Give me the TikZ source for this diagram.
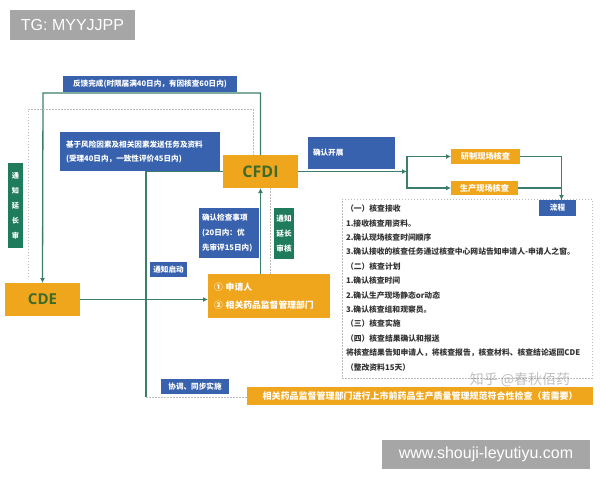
\documentclass[tikz,border=0pt]{standalone}
\usepackage{fontspec}
\setmainfont{Noto Sans CJK SC}
\newfontfamily\lsans{Liberation Sans}
\newfontfamily\osans{Open Sans}
\usetikzlibrary{arrows.meta}
\definecolor{cfOrange}{HTML}{EFA51C}
\definecolor{cfBlue}{HTML}{3862AE}
\definecolor{cfGreen}{HTML}{1E7B5C}
\definecolor{cfLine}{HTML}{3C7E6C}
\definecolor{cfText}{HTML}{3E6B2C}
\definecolor{cfGray}{HTML}{A6A6A6}
\definecolor{cfDot}{HTML}{BDBDBD}
\definecolor{cfBody}{HTML}{333333}
\begin{document}
\begin{tikzpicture}[x=1pt,y=-1pt,
  box/.style={inner sep=0pt, outer sep=0pt},
  bluebox/.style={box, fill=cfBlue, text=white, font=\bfseries\fontsize{7.6}{14}\selectfont},
  greenbox/.style={box, fill=cfGreen, text=white, font=\bfseries\fontsize{7.6}{15}\selectfont},
  orbox/.style={box, fill=cfOrange, text=white, font=\bfseries\fontsize{8.2}{14}\selectfont},
  bigtxt/.style={font=\osans\bfseries\fontsize{16}{16}\selectfont, text=cfText},
  graybox/.style={box, fill=cfGray, text=white, font=\lsans\fontsize{16}{16}\selectfont},
  conn/.style={draw=cfLine, line width=1.3pt},
  arr/.style={-{Latex[length=5pt,width=5pt]}},
  dotline/.style={draw=cfDot, line width=0.9pt, dash pattern=on 1.5pt off 1.5pt}
]
\fill[white] (0,0) rectangle (600,480);
\useasboundingbox (0,0) rectangle (600,480);

% watermark boxes
\node[graybox, minimum width=125, minimum height=30] (tg) at (72.5,25) {TG: MYYJJPP};
\node[graybox, minimum width=208, minimum height=29] (www) at (486,454.5) {www.shouji-leyutiyu.com};

% main nodes
\node[bluebox, minimum width=174, minimum height=16] (fb) at (150,84) {反馈完成(时限届满40日内，有因核查60日内)};
\node[bluebox, text width=148, inner xsep=6, minimum height=39, align=left] (task) at (140,151.5)
  {基于风险因素及相关因素发送任务及资料\\(受理40日内，一致性评价45日内)};
\node[orbox, bigtxt, minimum width=75, minimum height=33] (cfdi) at (260.5,171.5) {CFDI};
\node[orbox, bigtxt, font=\osans\bfseries\fontsize{15}{15}\selectfont, minimum width=75, minimum height=33] (cde) at (42.5,299.5) {CDE};
\node[orbox, font=\bfseries\fontsize{8.8}{18}\selectfont, text width=110, inner xsep=6, minimum height=44, align=left] (appl) at (269,296)
  {① 申请人\\② 相关药品监督管理部门};
\node[bluebox, font=\bfseries\fontsize{7.6}{15}\selectfont, text width=54, inner xsep=3, minimum height=50, align=left] (chk) at (229,233)
  {确认检查事项\\(20日内：优\\先审评15日内)};
\node[greenbox, minimum width=20, minimum height=51, align=center] (ext2) at (284,233.5) {通知\\延长\\审核};
\node[greenbox, font=\bfseries\fontsize{7.2}{15}\selectfont, minimum width=15, minimum height=85, align=center] (ext1) at (15.5,205.5) {通\\知\\延\\长\\审};
\node[bluebox, minimum width=37, minimum height=15] (start) at (168.5,269.5) {通知启动};
\node[bluebox, minimum width=68, minimum height=15] (sync) at (195,386.5) {协调、同步实施};
\node[bluebox, text width=77, inner xsep=5, minimum height=32, align=left] (kz) at (351.5,153) {确认开展};
\node[orbox, minimum width=69, minimum height=15] (yz) at (485.5,156.5) {研制现场核查};
\node[orbox, minimum width=67, minimum height=14] (sc) at (484.5,188) {生产现场核查};
\node[box, draw=cfDot, line width=0.8pt, dash pattern=on 1.5pt off 1.5pt, minimum width=250, minimum height=179] (proc) at (467,288.5) {};
\node[bluebox, minimum width=37, minimum height=16] (lc) at (557.5,208) {流程};
\node[box, anchor=north west, align=left, text=cfBody, font=\bfseries\fontsize{7.8}{14.4}\selectfont] (proctext) at (346,205)
  {（一）核查接收\\
   1.接收核查用资料。\\
   2.确认现场核查时间顺序\\
   3.确认接收的核查任务通过核查中心网站告知申请人-申请人之窗。\\
   （二）核查计划\\
   1.确认核查时间\\
   2.确认生产现场静态or动态\\
   3.确认核查组和观察员。\\
   （三）核查实施\\
   （四）核查结果确认和报送\\
   将核查结果告知申请人，将核查报告，核查材料、核查结论返回CDE\\
   （整改资料15天）};
\node[orbox, font=\bfseries\fontsize{9}{12}\selectfont, minimum width=346, minimum height=18] (bar) at (420,396)
  {相关药品监督管理部门进行上市前药品生产质量管理规范符合性检查（若需要）};
\node[box, text=gray, opacity=0.5, font=\fontsize{14}{14}\selectfont] (wm) at (520,380) {知乎 @春秋佰药};

% coordinates
\coordinate (fbL) at (43,93);
\coordinate (dTL) at (28,109);
\coordinate (dTR) at (253,109);
\coordinate (vBot) at (146,397);
\coordinate (br) at (407,171.5);

% connectors
\draw[conn, arr] (cfdi.north) |- (fbL) -- (cde.north);
\draw[dotline] ([yshift=6]cde.north -| dTL) -- (dTL) -- (dTR) -- (cfdi.north -| dTR);
\draw[conn] (cfdi.west) -| (vBot);
\draw[dotline] (vBot) -- (bar.west |- vBot);
\draw[conn, arr] (cde.east) -- (cde.east -| appl.west);
\draw[conn, arr] (appl.north -| cfdi.south) -- (cfdi.south);
\draw[dotline] ([xshift=9.5]cfdi.south) -- ([xshift=9.5]cfdi.south |- appl.north);
\draw[conn, arr] (cfdi.east) -- (br);
\draw[conn, arr] (br) |- (yz.west);
\draw[conn, arr] (br) |- (sc.west);
\draw[conn, arr] (yz.east) -| ([xshift=4]lc.north);
\draw[conn] (sc.east) -| ([xshift=4,yshift=-2]lc.north);
\end{tikzpicture}
\end{document}
